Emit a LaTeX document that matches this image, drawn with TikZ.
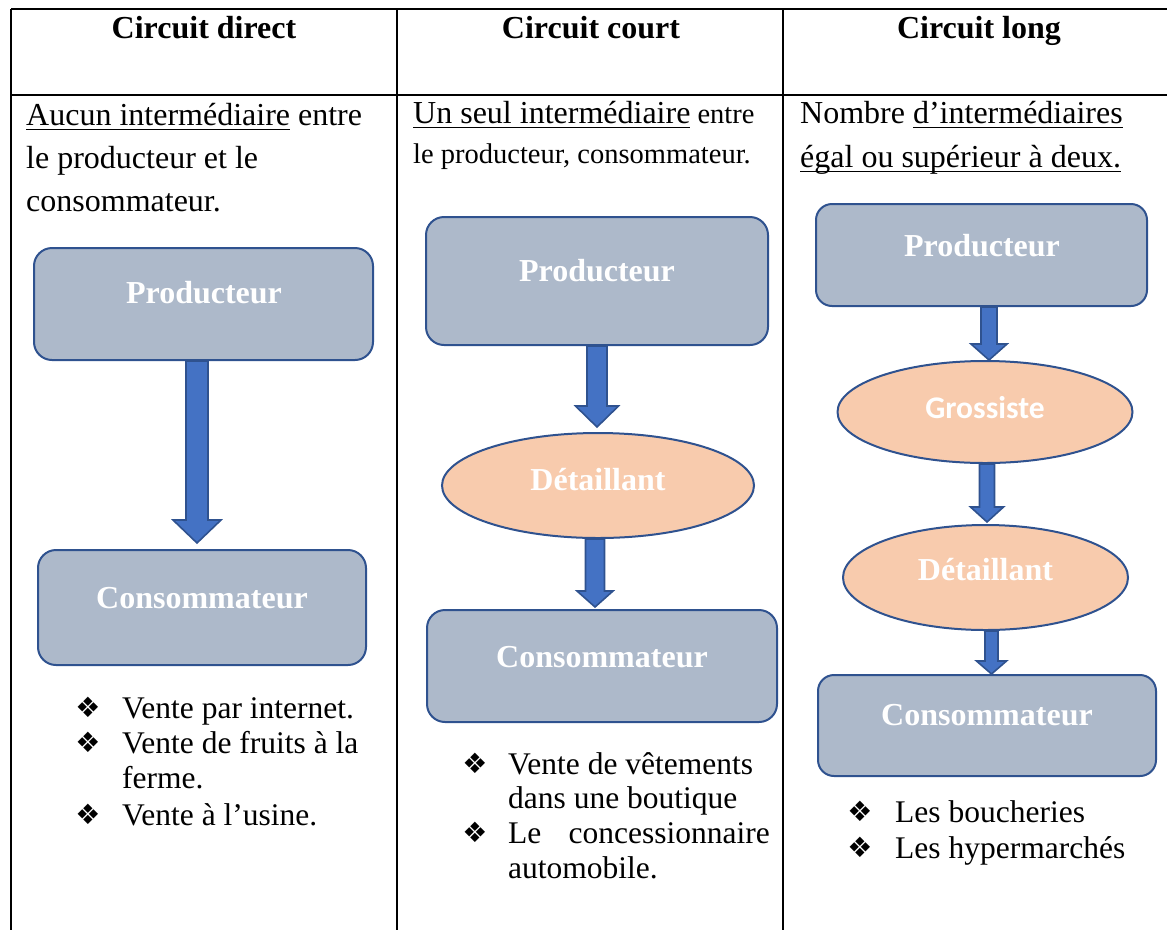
\documentclass[tikz,border=0pt]{standalone}
\usepackage{fontspec}
\setmainfont{Liberation Serif}
\newfontfamily\calibrisub{Carlito}
\newfontfamily\dingfont{DejaVu Sans}
\usetikzlibrary{shapes.geometric,calc}

\definecolor{boxfill}{RGB}{173,185,202}
\definecolor{ovalfill}{RGB}{248,203,173}
\definecolor{shapeline}{RGB}{47,82,143}
\definecolor{arrowfill}{RGB}{68,114,196}

% underline drawn at a fixed depth below the baseline
\newcommand\uln[1]{\setbox0\hbox{#1}\rlap{\rule[-5.2pt]{\wd0}{1.7pt}}\box0\relax}

% block arrow from the bottom of node #1 to the top of node #2
% #3 x-shift, #4 shaft half width, #5 head half width, #6 head length, #7 gap at tip
\newcommand\flowarrow[7]{%
  \draw[flowarr] let \p1=(#1.south), \p2=(#2.north) in
    (\x1+#3pt-#4pt,\y1) -- (\x1+#3pt-#4pt,\y2+#7pt+#6pt)
    -- (\x1+#3pt-#5pt,\y2+#7pt+#6pt) -- (\x1+#3pt,\y2+#7pt)
    -- (\x1+#3pt+#5pt,\y2+#7pt+#6pt) -- (\x1+#3pt+#4pt,\y2+#7pt+#6pt)
    -- (\x1+#3pt+#4pt,\y1) -- cycle;}

\tikzset{
  grid/.style={line width=2.2pt, black},
  headtxt/.style={anchor=base, inner sep=0pt, font=\fontsize{32}{38}\selectfont\bfseries},
  bodytxt/.style={anchor=base west, inner sep=0pt, font=\fontsize{32}{38}\selectfont},
  smalltxt/.style={anchor=base west, inner sep=0pt, font=\fontsize{28.5}{34}\selectfont},
  listtxt/.style={anchor=base west, inner sep=0pt, font=\fontsize{31.5}{36}\selectfont},
  bullet/.style={anchor=center, inner sep=0pt, font=\dingfont\fontsize{28}{28}\selectfont},
  stepbox/.style={draw=shapeline, line width=2pt, fill=boxfill, rounded corners=18pt,
    rectangle, inner sep=0pt},
  oval/.style={draw=shapeline, line width=2pt, fill=ovalfill, ellipse, inner sep=0pt},
  shapetxt/.style={anchor=base, inner sep=0pt, text=white,
    font=\fontsize{32}{38}\selectfont\bfseries},
  flowarr/.style={draw=shapeline, line width=1.6pt, fill=arrowfill, line join=miter},
}

\begin{document}
\begin{tikzpicture}[x=1pt,y=-1pt]
\useasboundingbox (0,0) rectangle (1167,930);

% table rules
\draw[grid] (11,9) -- (1167,9);
\draw[grid] (11,95) -- (1167,95);
\draw[grid] (11,9) -- (11,930);
\draw[grid] (397,9) -- (397,930);
\draw[grid] (783,9) -- (783,930);

% headers
\node[headtxt] (h1) at (204,38) {Circuit direct};
\node[headtxt] (h2) at (591,38) {Circuit court};
\node[headtxt] (h3) at (979,38) {Circuit long};

% column 1 description
\node[bodytxt] (d1a) at (26,125) {\uln{Aucun intermédiaire} entre};
\node[bodytxt] (d1b) at (26,168) {le producteur et le};
\node[bodytxt] (d1c) at (26,211) {consommateur.};

% column 2 description
\node[bodytxt] (d2a) at (413,123) {\uln{Un seul intermédiaire}\fontsize{28.5}{34}\selectfont{} entre};
\node[smalltxt] (d2b) at (413,163) {le producteur, consommateur.};

% column 3 description
\node[bodytxt] (d3a) at (800,123) {Nombre \uln{d’intermédiaires}};
\node[bodytxt] (d3b) at (800,167) {\uln{égal ou supérieur à deux.}};

% column 1 chain
\node[stepbox, minimum width=339pt, minimum height=112pt] (p1) at (203.5,304) {};
\node[shapetxt] (p1t) at (204,303) {Producteur};
\node[stepbox, minimum width=328pt, minimum height=115pt] (c1) at (202,607.5) {};
\node[shapetxt] (c1t) at (202,608) {Consommateur};
\flowarrow{p1}{c1}{-6.5}{11}{24}{23}{6}

% column 2 chain
\node[stepbox, minimum width=342pt, minimum height=128pt] (p2) at (597,281) {};
\node[shapetxt] (p2t) at (597,281) {Producteur};
\node[oval, minimum width=312pt, minimum height=105pt] (r2) at (598,485.5) {};
\node[shapetxt] (r2t) at (598,490) {Détaillant};
\node[stepbox, minimum width=350pt, minimum height=112pt] (c2) at (602,666) {};
\node[shapetxt] (c2t) at (602,667) {Consommateur};
\flowarrow{p2}{r2}{0}{10}{21.5}{21}{5}
\flowarrow{r2}{c2}{-3}{9.5}{18}{16}{2}

% column 3 chain
\node[stepbox, minimum width=331pt, minimum height=102pt, rounded corners=16pt] (p3) at (981.5,255) {};
\node[shapetxt] (p3t) at (982,256) {Producteur};
\node[oval, minimum width=295pt, minimum height=102pt] (g3) at (985,412) {};
\node[shapetxt, font=\calibrisub\fontsize{31.5}{36}\selectfont\bfseries] (g3t) at (985,418) {Grossiste};
\node[oval, minimum width=285pt, minimum height=105pt] (r3) at (985.5,577.5) {};
\node[shapetxt] (r3t) at (985.5,580) {Détaillant};
\node[stepbox, minimum width=338pt, minimum height=101pt, rounded corners=16pt] (c3) at (987,725.5) {};
\node[shapetxt] (c3t) at (987,725) {Consommateur};
\flowarrow{p3}{g3}{7.5}{8}{18}{16}{0}
\flowarrow{g3}{r3}{2}{7.5}{16.5}{15}{2}
\flowarrow{r3}{c3}{6}{6.5}{15}{13}{0}

% column 1 examples
\node[bullet] (b1a) at (88,707) {❖};
\node[listtxt] (e1a) at (122,718) {Vente par internet.};
\node[bullet] (b1b) at (88,742) {❖};
\node[listtxt] (e1b) at (122,753) {Vente de fruits à la};
\node[listtxt] (e1c) at (122,788) {ferme.};
\node[bullet] (b1c) at (88,814) {❖};
\node[listtxt] (e1d) at (122,825) {Vente à l’usine.};

% column 2 examples
\node[bullet] (b2a) at (475,763) {❖};
\node[listtxt] (e2a) at (508,774) {Vente de vêtements};
\node[listtxt] (e2b) at (508,808) {dans une boutique};
\node[bullet] (b2b) at (475,832) {❖};
\node[listtxt] (e2c) at (508,843) {Le};
\node[listtxt, anchor=base east] (e2d) at (770,843) {concessionnaire};
\node[listtxt] (e2e) at (508,878) {automobile.};

% column 3 examples
\node[bullet] (b3a) at (860,811) {❖};
\node[listtxt] (e3a) at (895,822) {Les boucheries};
\node[bullet] (b3b) at (860,847) {❖};
\node[listtxt] (e3b) at (895,858) {Les hypermarchés};
\end{tikzpicture}
\end{document}
